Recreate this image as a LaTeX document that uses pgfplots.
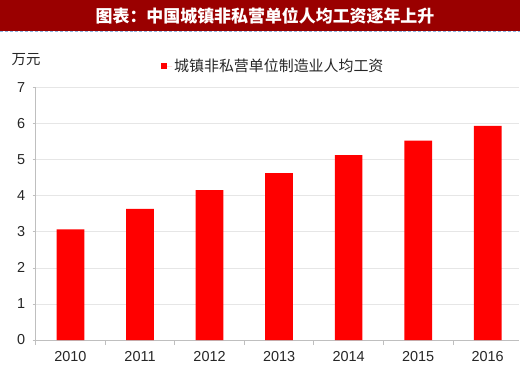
\documentclass[border=0pt]{standalone}
\usepackage{pgfplots}
\pgfplotsset{compat=1.18}
\usepackage{fontspec}
\setmainfont{Liberation Sans}
\newfontfamily\cjk{Noto Sans CJK SC}
\definecolor{titlered}{HTML}{9A0000}
\definecolor{barred}{HTML}{FF0000}
\definecolor{gridgray}{HTML}{E6E6E6}
\definecolor{axisgray}{HTML}{BFBFBF}
\definecolor{txt}{HTML}{262626}
\definecolor{dashblue}{HTML}{8DB3E2}
\begin{document}
\begin{tikzpicture}[x=1bp,y=1bp]
\path[use as bounding box] (0,0) rectangle (520,373);
\fill[titlered] (0,342) rectangle (520,373);
\draw[dashblue, densely dashed, line width=0.8bp] (0,341.3) -- (520,341.3);
\node[white, font=\cjk\bfseries\fontsize{17}{17}\selectfont] at (265,357) {图表：中国城镇非私营单位人均工资逐年上升};
\node[txt, font=\cjk\fontsize{14.5}{14.5}\selectfont] at (26,313) {万元};
\begin{axis}[
  at={(35.7bp,33bp)}, anchor=south west,
  scale only axis, width=483.3bp, height=252.3bp,
  xmin=-0.5, xmax=6.45, ymin=0, ymax=7,
  enlargelimits=false,
  axis x line=bottom, axis y line=left,
  axis line style={axisgray, -, line width=0.8bp},
  xtick={0,...,6},
  xticklabels={2010,2011,2012,2013,2014,2015,2016},
  minor xtick={-0.5,0.5,...,6.5},
  major x tick style={draw=none},
  minor x tick style={axisgray, line width=0.8bp},
  minor tick length=5bp,
  ytick={0,...,7},
  major tick length=3bp,
  ytick style={axisgray, line width=0.8bp},
  tick align=outside,
  ymajorgrids, grid style={gridgray, line width=0.8bp},
  /pgf/number format/assume math mode=true,
  tick label style={txt, font=\fontsize{14.5}{14.5}\selectfont},
  xticklabel style={yshift=-5bp},
  yticklabel style={xshift=-4bp},
  ybar, bar width=27.7bp,
  legend style={at={(0.2593,1.086)}, anchor=west, draw=none, fill=none,
    font=\cjk\fontsize{15}{15}\selectfont, text=txt, inner sep=0pt,
    legend cell align=left},
  legend image code/.code={\path (0bp,0bp) -- (11bp,0bp); \fill[barred] (0bp,-3bp) rectangle (6bp,3bp);},
]
\addplot[fill=barred, draw=none] coordinates {(0,3.07) (1,3.64) (2,4.16) (3,4.63) (4,5.13) (5,5.53) (6,5.94)};
\addlegendentry{城镇非私营单位制造业人均工资}
\end{axis}
\end{tikzpicture}
\end{document}
